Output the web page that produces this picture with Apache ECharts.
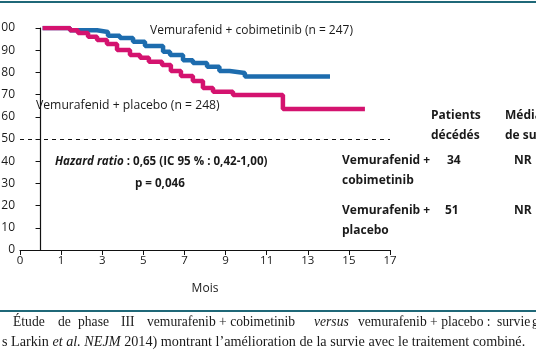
<!DOCTYPE html>
<html><head><meta charset="utf-8">
<script src="https://cdn.jsdelivr.net/npm/echarts@6/dist/echarts.min.js"></script>
<style>html,body{margin:0;padding:0;background:#fff}#c{width:536px;height:361px}</style>
</head><body><div id="c"></div>
<script>
// Months (axis origin labelled "0" sits at -1; ticks 1,3,5,...,17)
const xTickLabels = ['0','1','3','5','7','9','11','13','15','17'];
const yTicks = [0,10,20,30,40,50,60,70,80,90,100];
const cobiMonths = [0.1, 1.43, 2.75, 3.28, 3.86, 4.5, 5.08, 5.96, 6.3, 6.93, 7.41, 8.1, 8.7, 9.2, 9.94, 14.08];
const cobiSurvival = [100, 99, 98.2, 96.5, 95.5, 93.8, 91.9, 89.3, 87.8, 85.5, 84.2, 82.6, 80.6, 79.7, 78.1, 78.1];
const placeboMonths = [0.1, 1.43, 1.82, 2.31, 2.75, 3.23, 3.72, 4.35, 4.84, 5.27, 5.91, 6.34, 6.83, 7.41, 7.9, 8.39, 9.36, 11.79, 15.78];
const placeboSurvival = [100, 99, 97.7, 96.1, 94.6, 92.8, 90.1, 87.8, 86.6, 84.8, 83.3, 80.6, 78.4, 76.1, 73, 71.3, 69.8, 63.5, 63.5];
const medianLine = 50;
const cobiLabel = 'Vemurafenid + cobimetinib (n = 247)';
const placeboLabel = 'Vemurafenid + placebo (n = 248)';
const deaths = ['34', '51'];
const medians = ['NR', 'NR'];

const sans = '"Open Sans", sans-serif';
const serif = '"Liberation Serif", "DejaVu Serif", serif';
const blue = '#1d6cae';
const pink = '#d4136f';
const ink = '#1a1a1a';

const chart = echarts.init(document.getElementById('c'), null, {renderer: 'canvas'});
const pairs = (xs, ys) => xs.map((x, i) => [x, ys[i]]);

function txt(x, y, text, opt) {
  return Object.assign({type: 'text', left: x, top: y, z: 10,
    style: Object.assign({text: text, fill: ink, font: '12px ' + sans}, opt || {})});
}
function cap(x, y, text, size) {
  size = size || 13.6;
  return {type: 'text', left: x, top: y, z: 10, style: {text: text, font: size + 'px ' + serif, fill: ink,
    rich: {i: {fontFamily: serif, fontSize: size, fontStyle: 'italic', fill: ink}}}};
}

chart.setOption({
  animation: false,
  grid: {left: 20, right: 146, top: 28, bottom: 111, outerBoundsMode: 'none', containLabel: false},
  xAxis: {
    type: 'value', min: -1, max: 17, interval: 2,
    axisLine: {lineStyle: {color: '#111', width: 1.2}},
    axisTick: {inside: false, length: 5, lineStyle: {color: '#111'}},
    axisLabel: {color: ink, fontFamily: sans, fontSize: 11.5, margin: 5,
      formatter: v => xTickLabels[Math.round((v + 1) / 2)]},
    splitLine: {show: false},
    name: 'Mois', nameLocation: 'middle', nameGap: 33,
    nameTextStyle: {color: ink, fontFamily: sans, fontSize: 12}
  },
  yAxis: {
    type: 'value', min: 0, max: 100, interval: 10,
    axisLine: {show: true, lineStyle: {color: '#111', width: 1.2}},
    axisTick: {show: true, length: 5, lineStyle: {color: '#111'}},
    axisLabel: {color: ink, fontFamily: sans, fontSize: 12, margin: 5},
    splitLine: {show: false}
  },
  series: [
    {type: 'line', step: 'end', data: pairs(cobiMonths, cobiSurvival), symbol: 'none',
      lineStyle: {color: blue, width: 4.5}, z: 3},
    {type: 'line', step: 'end', data: pairs(placeboMonths, placeboSurvival), symbol: 'none',
      lineStyle: {color: pink, width: 4.5}, z: 4,
      markLine: {silent: true, symbol: 'none', label: {show: false},
        lineStyle: {color: '#111', type: [4, 4], width: 1},
        data: [{yAxis: medianLine}]}}
  ],
  graphic: [
    {type: 'rect', shape: {x: 0, y: 1, width: 536, height: 2}, style: {fill: '#1f6878'}},
    {type: 'rect', shape: {x: 0, y: 310, width: 536, height: 2}, style: {fill: '#1f6878'}},
    txt(150, 25, cobiLabel, {font: '12px ' + sans}),
    txt(36, 100, placeboLabel, {font: '12.2px ' + sans}),
    {type: 'text', left: 55, top: 156, z: 10, style: {
      text: '{i|Hazard ratio}{b| : 0,65 (IC 95 % : 0,42-1,00)}',
      rich: {i: {fontFamily: sans, fontSize: 11.6, fontStyle: 'italic', fontWeight: 'bold', fill: ink},
             b: {fontFamily: sans, fontSize: 11.6, fontWeight: 'bold', fill: ink}}}},
    txt(135, 178, 'p = 0,046', {font: 'bold 11.6px ' + sans}),
    txt(431, 110, 'Patients', {font: 'bold 12px ' + sans}),
    txt(431, 130, 'décédés', {font: 'bold 12px ' + sans}),
    txt(505, 110, 'Médiane', {font: 'bold 12px ' + sans}),
    txt(505, 130, 'de survie', {font: 'bold 12px ' + sans}),
    txt(342, 155, 'Vemurafenid +', {font: 'bold 12px ' + sans}),
    txt(342, 175, 'cobimetinib', {font: 'bold 12px ' + sans}),
    txt(447, 155, deaths[0], {font: 'bold 12px ' + sans}),
    txt(514, 155, medians[0], {font: 'bold 12px ' + sans}),
    txt(342, 205, 'Vemurafenib +', {font: 'bold 12px ' + sans}),
    txt(342, 225, 'placebo', {font: 'bold 12px ' + sans}),
    txt(445, 205, deaths[1], {font: 'bold 12px ' + sans}),
    txt(514, 205, medians[1], {font: 'bold 12px ' + sans}),
    cap(13, 315, 'Étude'),
    cap(58, 315, 'de'),
    cap(78, 315, 'phase'),
    cap(121, 315, 'III'),
    cap(147, 315, 'vemurafenib + cobimetinib'),
    cap(314, 315, '{i|versus}'),
    cap(358, 315, 'vemurafenib + placebo :'),
    cap(497, 315, 'survie'),
    cap(532, 315, 'globale'),
    cap(2, 335, 's Larkin {i|et al. NEJM} 2014) montrant l\u2019amélioration de la survie avec le traitement combiné.', 14.2)
  ]
});
</script></body></html>
